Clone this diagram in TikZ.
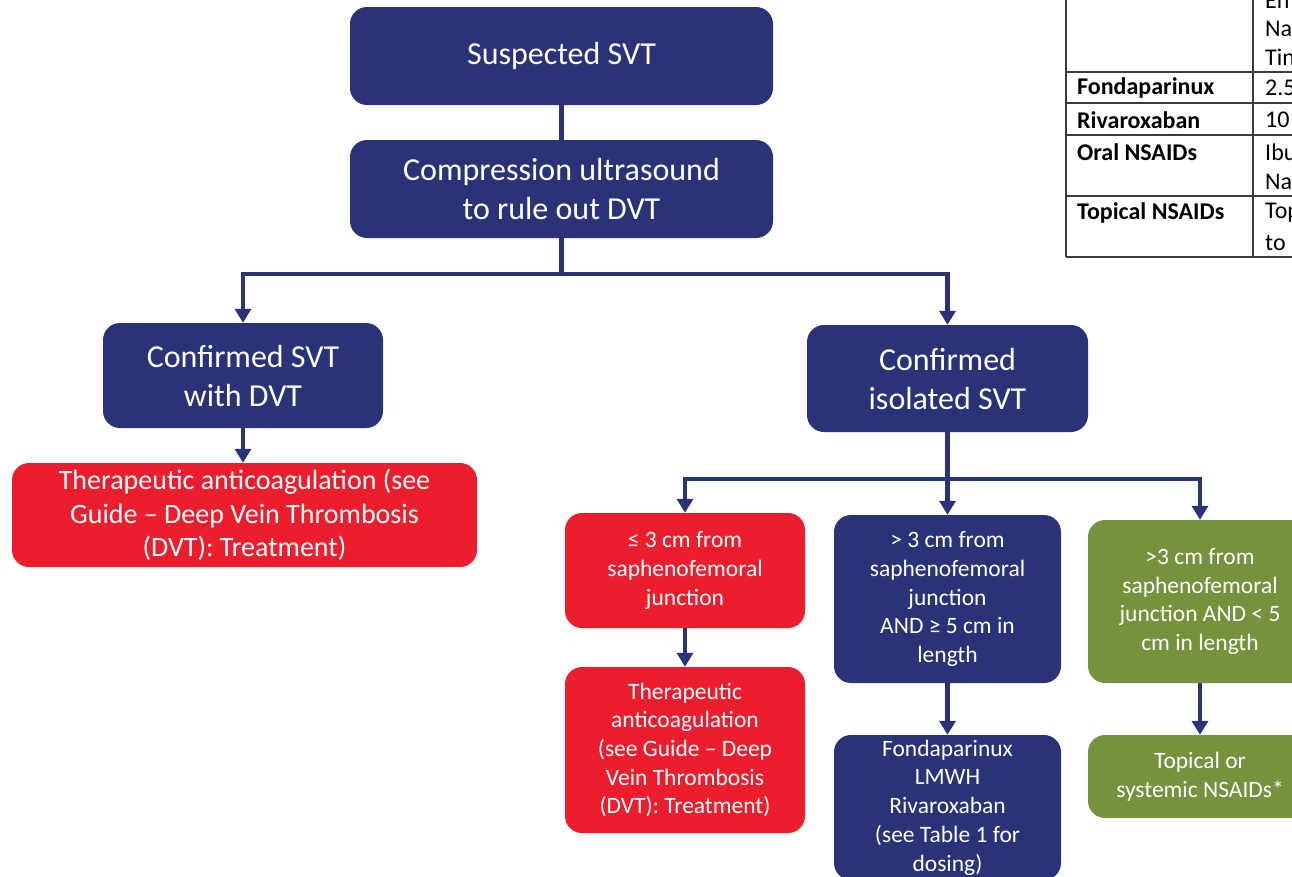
\documentclass[tikz,border=0pt]{standalone}
\usepackage{fontspec}
\setmainfont{Carlito}
\usetikzlibrary{arrows.meta}
\definecolor{navy}{RGB}{42,50,120}
\definecolor{redbox}{RGB}{236,30,45}
\definecolor{greenbox}{RGB}{118,146,60}
\definecolor{tblline}{RGB}{60,60,60}
\begin{document}
\begin{tikzpicture}[x=1pt,y=-1pt,
  box/.style={rounded corners=17pt, inner sep=0pt, align=center, text=white, draw=none},
  navybox/.style={box, fill=navy},
  redb/.style={box, fill=redbox},
  greenb/.style={box, fill=greenbox},
  bigtxt/.style={font=\fontsize{32}{39}\selectfont},
  midtxt/.style={font=\fontsize{28}{33.5}\selectfont},
  smalltxt/.style={font=\fontsize{23.5}{28.7}\selectfont},
  conn/.style={draw=navy, line width=4.5pt},
  arr/.style={conn, -{Triangle[width=16pt,length=14pt]}},
  tbl/.style={draw=tblline, line width=1.6pt},
  tbltxt/.style={anchor=west, inner sep=0pt, text=black, font=\fontsize{24}{29}\selectfont},
  tblbold/.style={tbltxt, font=\fontsize{24}{29}\selectfont\bfseries}
]
\path[use as bounding box, clip] (0,0) rectangle (1292,876);
\fill[white] (0,0) rectangle (1292,876);

% top boxes
\node[navybox, bigtxt, minimum width=423pt, minimum height=98pt] (s) at (561.5,56) {Suspected SVT};
\node[navybox, bigtxt, minimum width=423pt, minimum height=98pt] (c) at (561.5,189) {Compression ultrasound\\to rule out DVT};
\node[navybox, bigtxt, minimum width=280pt, minimum height=105pt] (d) at (243,375.5) {Confirmed SVT\\with DVT};
\node[navybox, bigtxt, minimum width=281pt, minimum height=107pt] (iso) at (947.5,378.5) {Confirmed\\isolated SVT};
\node[redb, midtxt, minimum width=465pt, minimum height=104pt] (L) at (244.5,515) {Therapeutic anticoagulation (see\\Guide – Deep Vein Thrombosis\\(DVT): Treatment)};

% lower boxes
\node[redb, smalltxt, minimum width=240pt, minimum height=115pt] (r1) at (685,570.5) {≤ 3 cm from\\saphenofemoral\\junction};
\node[redb, smalltxt, minimum width=240pt, minimum height=166pt] (r2) at (685,750) {Therapeutic\\anticoagulation\\(see Guide – Deep\\Vein Thrombosis\\(DVT): Treatment)};
\node[navybox, smalltxt, minimum width=227pt, minimum height=168pt] (b1) at (947.5,599) {> 3 cm from\\saphenofemoral\\junction\\AND ≥ 5 cm in\\length};
\node[navybox, smalltxt, minimum width=227pt, minimum height=145pt] (b2) at (947.5,807.5) {Fondaparinux\\LMWH\\Rivaroxaban\\(see Table 1 for\\dosing)};
\node[greenb, smalltxt, minimum width=224pt, minimum height=163pt] (g1) at (1200,601.5) {>3 cm from\\saphenofemoral\\junction AND < 5\\cm in length};
\node[greenb, smalltxt, minimum width=224pt, minimum height=83pt] (g2) at (1200,776.5) {Topical or\\systemic NSAIDs*};

% connectors
\coordinate (j1) at (561.5,274);
\coordinate (j2) at (947.5,479);
\draw[conn] (s.south) -- (c.north);
\draw[conn] (c.south) -- (j1);
\draw[arr] (j1) -| (d.north);
\draw[arr] (j1) -| (iso.north);
\draw[arr] (d.south) -- (d.south |- L.north);
\draw[conn] (iso.south) -- (j2);
\draw[arr] (j2) -| (r1.north);
\draw[arr] (j2) -- (b1.north);
\draw[arr] (j2) -| (g1.north);
\draw[arr] (r1.south) -- (r2.north);
\draw[arr] (b1.south) -- (b2.north);
\draw[arr] (g1.south) -- (g2.north);

% table (top right, partly outside the picture)
\draw[tbl] (1066,-5) -- (1066,257);
\draw[tbl] (1253,-5) -- (1253,257);
\foreach \yy in {72,103,135,196,257} {\draw[tbl] (1066,\yy) -- (1300,\yy);}
\node[tbltxt] (t1) at (1265,1) {En};
\node[tbltxt] (t2) at (1265,29) {Na};
\node[tbltxt] (t3) at (1265,57) {Tin};
\node[tblbold] (t4) at (1077,88) {Fondaparinux};
\node[tbltxt] (t5) at (1265,88) {2.5};
\node[tblbold] (t6) at (1077,120) {Rivaroxaban};
\node[tbltxt] (t7) at (1265,120) {10};
\node[tblbold] (t8) at (1077,152) {Oral NSAIDs};
\node[tbltxt] (t9) at (1265,152) {Ibu};
\node[tbltxt] (t10) at (1265,182) {Na};
\node[tblbold] (t11) at (1077,213) {Topical NSAIDs};
\node[tbltxt] (t12) at (1265,213) {Top};
\node[tbltxt] (t13) at (1265,243) {to};
\end{tikzpicture}
\end{document}
